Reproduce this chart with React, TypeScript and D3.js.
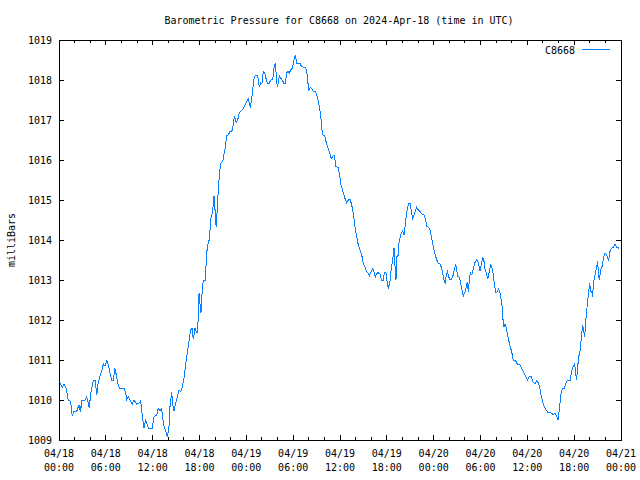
import React from "react";
import * as d3 from "d3";

const TITLE = "Barometric Pressure for C8668 on 2024-Apr-18 (time in UTC)";
const SERIES_NAME = "C8668";
const Y_LABEL = "milliBars";
const START = Date.UTC(2024, 3, 18, 0, 0);
const END = Date.UTC(2024, 3, 21, 0, 0);
const Y_TICKS = [1009, 1010, 1011, 1012, 1013, 1014, 1015, 1016, 1017, 1018, 1019];

// hours since 2024-04-18 00:00 UTC
const hours = [
  0, 0.13, 0.42, 0.64, 0.86, 0.99, 1.19, 1.41, 1.54, 1.7, 1.92, 2.27, 2.47, 2.6, 2.69, 2.78, 2.91, 3.33, 3.55, 3.75,
  3.88, 4.06, 4.19, 4.39, 4.65, 4.83, 5.03, 5.25, 5.47, 5.68, 5.89, 6.11, 6.32, 6.53, 6.75, 6.96, 7.17, 7.39, 7.6, 7.81,
  8.33, 8.55, 8.67, 8.88, 9.1, 9.39, 9.61, 9.95, 10.25, 10.47, 10.67, 10.89, 11.11, 11.31, 11.44, 11.95, 12.17, 12.52,
  12.72, 12.94, 13.16, 13.28, 13.49, 13.71, 13.87, 14.09, 14.22, 14.44, 14.57, 14.73, 14.95, 15.16, 15.37, 15.59, 15.8,
  16.01, 16.23, 16.44, 16.69, 16.87, 17.04, 17.21, 17.42, 17.68, 17.81, 17.94, 18.06, 18.19, 18.36, 18.49, 18.74,
  18.92, 19.13, 19.26, 19.34, 19.43, 19.6, 19.73, 19.86, 19.95, 20.02, 20.15, 20.33, 20.46, 20.59, 20.72, 20.97, 21.14,
  21.31, 21.48, 21.69, 21.91, 22.16, 22.33, 22.46, 22.59, 22.71, 22.89, 23.1, 23.35, 23.61, 23.83, 24.05, 24.25, 24.38,
  24.51, 24.69, 24.82, 24.98, 25.15, 25.4, 25.53, 25.66, 25.84, 26.01, 26.17, 26.35, 26.52, 26.69, 26.94, 27.12, 27.38,
  27.54, 27.71, 27.84, 27.97, 28.09, 28.22, 28.44, 28.66, 28.79, 28.99, 29.17, 29.34, 29.5, 29.68, 29.89, 30.02, 30.14,
  30.27, 30.45, 30.87, 31.09, 31.52, 31.73, 31.86, 31.99, 32.16, 32.37, 32.5, 32.83, 33.01, 33.18, 33.34, 33.47, 33.6,
  33.69, 33.78, 34.04, 34.21, 34.37, 34.55, 34.72, 34.88, 35.06, 35.23, 35.36, 35.49, 35.74, 35.87, 36.0, 36.13, 36.26,
  36.42, 36.64, 36.86, 37.06, 37.28, 37.5, 37.7, 37.92, 38.14, 38.34, 38.56, 38.78, 38.98, 39.2, 39.42, 39.62, 39.75,
  39.93, 40.19, 40.35, 40.52, 40.7, 40.91, 41.12, 41.34, 41.55, 41.67, 41.89, 42.06, 42.19, 42.4, 42.57, 42.75, 42.92,
  43.04, 43.17, 43.3, 43.43, 43.52, 43.69, 43.85, 44.03, 44.2, 44.33, 44.45, 44.62, 44.8, 45.01, 45.13, 45.31, 45.48,
  45.65, 45.82, 46.03, 46.25, 46.47, 46.76, 46.98, 47.11, 47.36, 47.53, 47.75, 47.95, 48.17, 48.39, 48.59, 48.81, 48.98,
  49.16, 49.32, 49.49, 49.62, 49.75, 49.93, 50.09, 50.31, 50.51, 50.69, 50.82, 50.95, 51.11, 51.28, 51.46, 51.63, 51.8,
  51.97, 52.14, 52.31, 52.44, 52.57, 52.69, 52.87, 53.0, 53.17, 53.33, 53.51, 53.72, 53.93, 54.1, 54.28, 54.45, 54.57,
  54.79, 54.96, 55.13, 55.31, 55.48, 55.64, 55.82, 55.99, 56.15, 56.33, 56.5, 56.66, 56.79, 56.84, 57.01, 57.14, 57.27,
  57.43, 57.61, 57.78, 57.99, 58.2, 58.51, 58.71, 59.06, 59.28, 59.48, 59.7, 59.92, 60.04, 60.21, 60.51, 60.69, 60.98,
  61.2, 61.45, 61.62, 61.79, 61.97, 62.13, 62.3, 62.48, 62.65, 62.99, 63.16, 63.33, 63.54, 63.76, 63.93, 64.06, 64.19,
  64.32, 64.53, 64.74, 64.95, 65.12, 65.46, 65.68, 65.89, 66.07, 66.19, 66.32, 66.45, 66.58, 66.74, 66.87, 67.0, 67.09,
  67.22, 67.35, 67.48, 67.6, 67.73, 67.86, 67.99, 68.12, 68.25, 68.38, 68.45, 68.63, 68.76, 68.89, 69.01, 69.09, 69.22,
  69.4, 69.56, 69.73, 69.91, 70.08, 70.25, 70.42, 70.59, 70.76, 71.01, 71.23, 71.45, 71.78,
];

const pressure = [
  1010.42, 1010.42, 1010.31, 1010.39, 1010.33, 1010.21, 1010.0, 1009.98, 1009.88, 1009.6, 1009.71, 1009.71, 1009.86,
  1009.78, 1009.86, 1009.71, 1009.98, 1010.0, 1010.08, 1009.93, 1009.79, 1010.17, 1010.29, 1010.48, 1010.48, 1010.12,
  1010.44, 1010.6, 1010.71, 1010.9, 1010.85, 1010.98, 1010.88, 1010.67, 1010.5, 1010.5, 1010.79, 1010.58, 1010.35,
  1010.29, 1010.29, 1010.17, 1010.0, 1010.08, 1010.0, 1009.9, 1010.0, 1009.9, 1009.92, 1009.98, 1009.6, 1009.29,
  1009.5, 1009.38, 1009.29, 1009.29, 1009.58, 1009.63, 1009.79, 1009.73, 1009.79, 1009.54, 1009.32, 1009.21, 1009.08,
  1009.32, 1009.83, 1010.21, 1009.88, 1009.73, 1009.92, 1010.07, 1010.25, 1010.21, 1010.33, 1010.54, 1010.88, 1011.17,
  1011.52, 1011.75, 1011.79, 1011.52, 1011.79, 1011.68, 1011.96, 1012.68, 1012.42, 1012.18, 1012.79, 1013.0, 1013.0,
  1013.68, 1013.96, 1014.0, 1014.23, 1014.5, 1014.65, 1014.83, 1015.1, 1015.0, 1014.54, 1014.32, 1015.0, 1015.4,
  1015.73, 1015.92, 1015.96, 1016.15, 1016.33, 1016.6, 1016.63, 1016.71, 1016.73, 1016.88, 1017.1, 1017.02, 1016.93,
  1017.0, 1017.18, 1017.23, 1017.29, 1017.38, 1017.46, 1017.52, 1017.43, 1017.31, 1017.54, 1017.77, 1018.02, 1018.12,
  1018.12, 1018.02, 1017.82, 1017.93, 1017.92, 1018.21, 1018.18, 1018.04, 1017.92, 1017.92, 1018.0, 1018.02, 1018.29,
  1018.42, 1018.1, 1017.82, 1017.93, 1018.1, 1018.04, 1017.98, 1017.92, 1017.92, 1018.18, 1018.21, 1018.17, 1018.25,
  1018.29, 1018.4, 1018.54, 1018.63, 1018.42, 1018.42, 1018.33, 1018.32, 1018.23, 1018.0, 1017.73, 1017.81, 1017.79,
  1017.73, 1017.71, 1017.63, 1017.5, 1017.35, 1017.18, 1016.96, 1016.75, 1016.63, 1016.6, 1016.46, 1016.35, 1016.25,
  1016.15, 1016.04, 1016.08, 1016.13, 1016.0, 1015.83, 1015.82, 1015.71, 1015.54, 1015.38, 1015.29, 1015.18, 1015.04,
  1014.93, 1015.0, 1015.02, 1014.88, 1014.67, 1014.33, 1014.08, 1013.88, 1013.75, 1013.63, 1013.42, 1013.32, 1013.21,
  1013.17, 1013.1, 1013.18, 1013.29, 1013.21, 1013.08, 1013.17, 1013.18, 1013.15, 1013.0, 1013.0, 1013.18, 1013.18,
  1012.92, 1012.79, 1012.96, 1013.29, 1013.52, 1013.79, 1013.38, 1013.0, 1013.6, 1013.6, 1013.88, 1014.04, 1014.18,
  1014.23, 1014.13, 1014.33, 1014.54, 1014.77, 1014.92, 1014.92, 1014.73, 1014.54, 1014.63, 1014.73, 1014.82, 1014.75,
  1014.71, 1014.65, 1014.63, 1014.5, 1014.33, 1014.32, 1014.25, 1014.04, 1013.83, 1013.65, 1013.5, 1013.42, 1013.4,
  1013.32, 1013.17, 1013.0, 1012.9, 1013.13, 1013.21, 1013.08, 1013.0, 1013.02, 1013.13, 1013.29, 1013.4, 1013.23,
  1013.08, 1013.07, 1012.92, 1012.75, 1012.6, 1012.68, 1012.79, 1012.96, 1012.71, 1013.0, 1013.18, 1013.13, 1013.21,
  1013.35, 1013.46, 1013.5, 1013.43, 1013.23, 1013.38, 1013.58, 1013.46, 1013.29, 1013.13, 1013.04, 1013.21, 1013.4,
  1013.29, 1013.13, 1012.83, 1012.67, 1012.71, 1012.79, 1012.67, 1012.5, 1012.29, 1012.08, 1011.82, 1011.9, 1011.82,
  1011.67, 1011.5, 1011.35, 1011.21, 1011.0, 1010.98, 1010.9, 1010.88, 1010.79, 1010.71, 1010.63, 1010.54, 1010.5,
  1010.58, 1010.58, 1010.46, 1010.4, 1010.48, 1010.42, 1010.29, 1010.08, 1009.96, 1009.86, 1009.79, 1009.73, 1009.69,
  1009.68, 1009.67, 1009.63, 1009.68, 1009.6, 1009.5, 1009.71, 1009.93, 1010.17, 1010.29, 1010.29, 1010.43, 1010.48,
  1010.48, 1010.71, 1010.85, 1010.9, 1010.67, 1010.5, 1010.83, 1011.08, 1011.21, 1011.46, 1011.71, 1011.88, 1011.73,
  1011.58, 1011.98, 1012.23, 1012.46, 1012.71, 1012.92, 1012.71, 1012.71, 1012.58, 1012.92, 1013.07, 1013.21, 1013.33,
  1013.48, 1013.21, 1013.0, 1013.25, 1013.33, 1013.52, 1013.67, 1013.65, 1013.58, 1013.5, 1013.71, 1013.79, 1013.82,
  1013.9, 1013.82, 1013.79,
];

const W = 640;
const H = 480;
const M = { left: 59, right: 621, top: 40, bottom: 440 };
const FONT = "'DejaVu Sans Mono', 'Liberation Mono', monospace";
const FS = 10;
const LINE_COLOR = "#0a80ff";

export default function App() {
  const x = d3.scaleUtc().domain([new Date(START), new Date(END)]).range([M.left, M.right]);
  const y = d3.scaleLinear().domain([1009, 1019]).range([M.bottom, M.top]);

  const data = hours.map((h, i) => ({ t: new Date(START + h * 3600000), v: pressure[i] }));
  const line = d3
    .line<{ t: Date; v: number }>()
    .x((d) => x(d.t))
    .y((d) => y(d.v));

  const minorTicks = x.ticks(d3.utcHour.every(2)!);
  const majorTicks = x.ticks(d3.utcHour.every(6)!);
  const fmtDate = d3.utcFormat("%m/%d");
  const fmtTime = d3.utcFormat("%H:%M");

  return (
    <svg
      width={W}
      height={H}
      style={{ position: "absolute", left: 0, top: 0, background: "#fff" }}
      fontFamily={FONT}
      fontSize={FS}
    >
      <rect x={0} y={0} width={W} height={H} fill="#fff" />
      <text x={(M.left + M.right) / 2 - 1} y={24} textAnchor="middle" fill="#000">
        {TITLE}
      </text>
      <text
        transform={`translate(15,${(M.top + M.bottom) / 2}) rotate(-90)`}
        textAnchor="middle"
        fill="#000"
      >
        {Y_LABEL}
      </text>

      <g stroke="#000" strokeWidth={1} shapeRendering="crispEdges">
        {minorTicks.map((t, i) => (
          <g key={"m" + i}>
            <line x1={x(t)} x2={x(t)} y1={M.bottom} y2={M.bottom - 3} />
            <line x1={x(t)} x2={x(t)} y1={M.top} y2={M.top + 3} />
          </g>
        ))}
        {majorTicks.map((t, i) => (
          <g key={"M" + i}>
            <line x1={x(t)} x2={x(t)} y1={M.bottom} y2={M.bottom - 5} />
            <line x1={x(t)} x2={x(t)} y1={M.top} y2={M.top + 5} />
          </g>
        ))}
        {Y_TICKS.map((v) => (
          <g key={"y" + v}>
            <line x1={M.left} x2={M.left + 5} y1={y(v)} y2={y(v)} />
            <line x1={M.right} x2={M.right - 5} y1={y(v)} y2={y(v)} />
          </g>
        ))}
      </g>

      {Y_TICKS.map((v) => (
        <text key={"yl" + v} x={M.left - 7} y={y(v) + 3.5} textAnchor="end" fill="#000">
          {v}
        </text>
      ))}
      {majorTicks.map((t, i) => (
        <text key={"xl" + i} x={x(t)} textAnchor="middle" fill="#000">
          <tspan x={x(t)} y={457}>
            {fmtDate(t)}
          </tspan>
          <tspan x={x(t)} y={471}>
            {fmtTime(t)}
          </tspan>
        </text>
      ))}

      <text x={575} y={53.5} textAnchor="end" fill="#000">
        {SERIES_NAME}
      </text>
      <line x1={582} x2={610} y1={49.5} y2={49.5} stroke={LINE_COLOR} strokeWidth={1} />

      <path
        d={line(data) ?? ""}
        fill="none"
        stroke={LINE_COLOR}
        strokeWidth={1}
        shapeRendering="crispEdges"
      />

      <rect
        x={M.left}
        y={M.top}
        width={M.right - M.left}
        height={M.bottom - M.top}
        fill="none"
        stroke="#000"
        strokeWidth={1}
        shapeRendering="crispEdges"
      />
    </svg>
  );
}
